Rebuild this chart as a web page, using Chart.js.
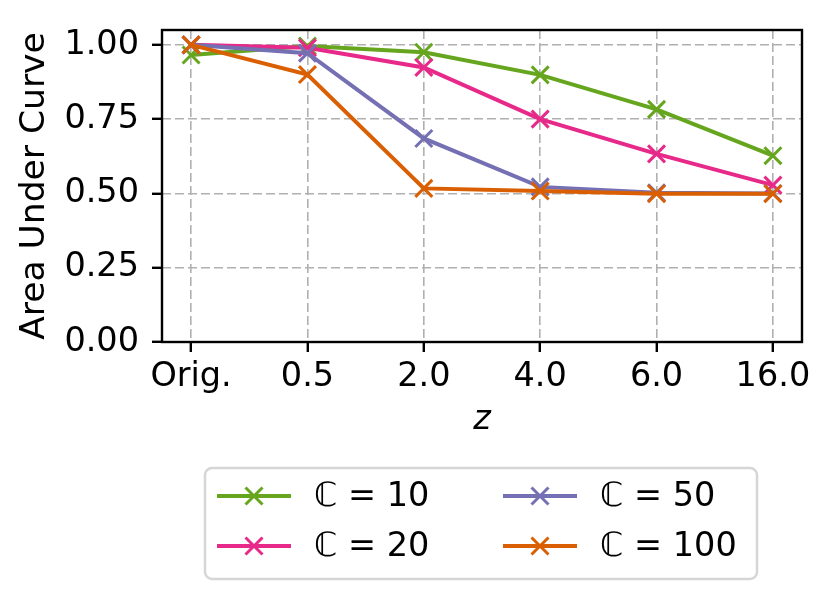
<!DOCTYPE html>
<html lang="en">
<head>
    <meta charset="UTF-8">
    <title>Area Under Curve vs z</title>
    <script src="https://cdn.jsdelivr.net/npm/chart.js"></script>
    <style>
        body { margin: 0; background: #fff; }
        canvas { display: block; }
    </style>
</head>
<body>
    <canvas id="aucChart" width="832" height="600"></canvas>
    <script>
        // values
        const xLabels = ['Orig.', '0.5', '2.0', '4.0', '6.0', '16.0'];
        const yTicks = [0, 0.25, 0.5, 0.75, 1.0];
        const seriesNames = ['\u2102 = 10', '\u2102 = 20', '\u2102 = 50', '\u2102 = 100'];
        const auc10 = [0.966, 0.996, 0.975, 0.899, 0.783, 0.627];
        const auc20 = [1.0, 0.990, 0.924, 0.750, 0.633, 0.528];
        const auc50 = [1.0, 0.972, 0.685, 0.522, 0.502, 0.500];
        const auc100 = [1.0, 0.900, 0.517, 0.508, 0.499, 0.499];

        const colors = ['#66a61e', '#e7298a', '#7570b3', '#d95f02'];
        const FONT = 'DejaVu Sans';
        const TXT = 33.5;

        function makeSet(name, values, i) {
            return {
                label: name,
                data: values.map((v, k) => ({ x: k, y: v })),
                borderColor: colors[i],
                backgroundColor: colors[i],
                borderWidth: 4,
                pointStyle: 'crossRot',
                pointRadius: 12,
                pointBorderWidth: 3,
                pointBorderColor: colors[i],
                tension: 0,
                order: 4 - i   // later series drawn on top, like matplotlib
            };
        }

        // frame around the plot area (all four spines)
        const framePlugin = {
            id: 'frame',
            afterDraw(chart) {
                const a = chart.chartArea;
                const ctx = chart.ctx;
                ctx.save();
                ctx.strokeStyle = '#000';
                ctx.lineWidth = 2.4;
                ctx.strokeRect(a.left, a.top, a.right - a.left, a.bottom - a.top);
                ctx.restore();
            }
        };

        // two-column legend filled column by column, below the axes
        const legendPlugin = {
            id: 'colLegend',
            afterDraw(chart) {
                const ctx = chart.ctx;
                const box = { x: 205, y: 468, w: 552, h: 111, r: 7 };
                ctx.save();
                ctx.beginPath();
                ctx.roundRect(box.x, box.y, box.w, box.h, box.r);
                ctx.fillStyle = 'rgba(255,255,255,0.8)';
                ctx.fill();
                ctx.strokeStyle = '#d6d6d6';
                ctx.lineWidth = 2.5;
                ctx.stroke();

                const colX = [217, 503];
                const rowY = [496, 546];
                chart.data.datasets.forEach((ds, i) => {
                    const cx = colX[Math.floor(i / 2)];
                    const cy = rowY[i % 2];
                    ctx.strokeStyle = ds.borderColor;
                    ctx.lineWidth = 4;
                    ctx.beginPath();
                    ctx.moveTo(cx, cy);
                    ctx.lineTo(cx + 74, cy);
                    ctx.stroke();
                    const mx = cx + 37, d = 8.5;
                    ctx.lineWidth = 3;
                    ctx.beginPath();
                    ctx.moveTo(mx - d, cy - d); ctx.lineTo(mx + d, cy + d);
                    ctx.moveTo(mx - d, cy + d); ctx.lineTo(mx + d, cy - d);
                    ctx.stroke();
                    ctx.fillStyle = '#000';
                    ctx.font = TXT + 'px "' + FONT + '"';
                    ctx.textBaseline = 'middle';
                    ctx.textAlign = 'left';
                    ctx.fillText(ds.label, cx + 97, cy + 1);
                });
                ctx.restore();
            }
        };

        const ctx = document.getElementById('aucChart').getContext('2d');
        const chart = new Chart(ctx, {
            type: 'line',
            data: {
                datasets: [
                    makeSet(seriesNames[0], auc10, 0),
                    makeSet(seriesNames[1], auc20, 1),
                    makeSet(seriesNames[2], auc50, 2),
                    makeSet(seriesNames[3], auc100, 3)
                ]
            },
            options: {
                responsive: false,
                animation: false,
                devicePixelRatio: 1,
                layout: { padding: { top: 30, right: 30, bottom: 0, left: 0 } },
                plugins: {
                    legend: { display: false },
                    tooltip: { enabled: false }
                },
                scales: {
                    x: {
                        type: 'linear',
                        min: -0.25,
                        max: 5.25,
                        afterBuildTicks: scale => {
                            scale.ticks = xLabels.map((_, i) => ({ value: i }));
                        },
                        afterFit: scale => {
                            scale.height = 258;
                            scale.paddingLeft = 0;
                            scale.paddingRight = 0;
                        },
                        ticks: {
                            callback: v => xLabels[v],
                            color: '#000',
                            font: { family: FONT, size: TXT },
                            padding: 5,
                            maxRotation: 0,
                            autoSkip: false
                        },
                        grid: {
                            color: '#b0b0b0',
                            lineWidth: 1.6,
                            tickColor: '#000',
                            tickWidth: 2.4,
                            tickLength: 10
                        },
                        border: { display: false, dash: [9, 4] },
                        title: {
                            display: true,
                            text: 'z',
                            color: '#000',
                            font: { family: FONT, size: TXT, style: 'italic' },
                            padding: { top: 0, bottom: 160 }
                        }
                    },
                    y: {
                        min: 0,
                        max: 1.05,
                        afterBuildTicks: scale => {
                            scale.ticks = yTicks.map(v => ({ value: v }));
                        },
                        afterFit: scale => {
                            scale.width = 162;
                            scale.paddingTop = 0;
                            scale.paddingBottom = 0;
                        },
                        ticks: {
                            callback: v => v.toFixed(2),
                            color: '#000',
                            font: { family: FONT, size: TXT },
                            padding: 13
                        },
                        grid: {
                            color: '#b0b0b0',
                            lineWidth: 1.6,
                            tickColor: '#000',
                            tickWidth: 2.4,
                            tickLength: 10
                        },
                        border: { display: false, dash: [9, 4] },
                        title: {
                            display: true,
                            text: 'Area Under Curve',
                            color: '#000',
                            font: { family: FONT, size: 34.5 },
                            padding: { top: 14, bottom: 0 }
                        }
                    }
                }
            },
            plugins: [framePlugin, legendPlugin]
        });
    </script>
</body>
</html>
